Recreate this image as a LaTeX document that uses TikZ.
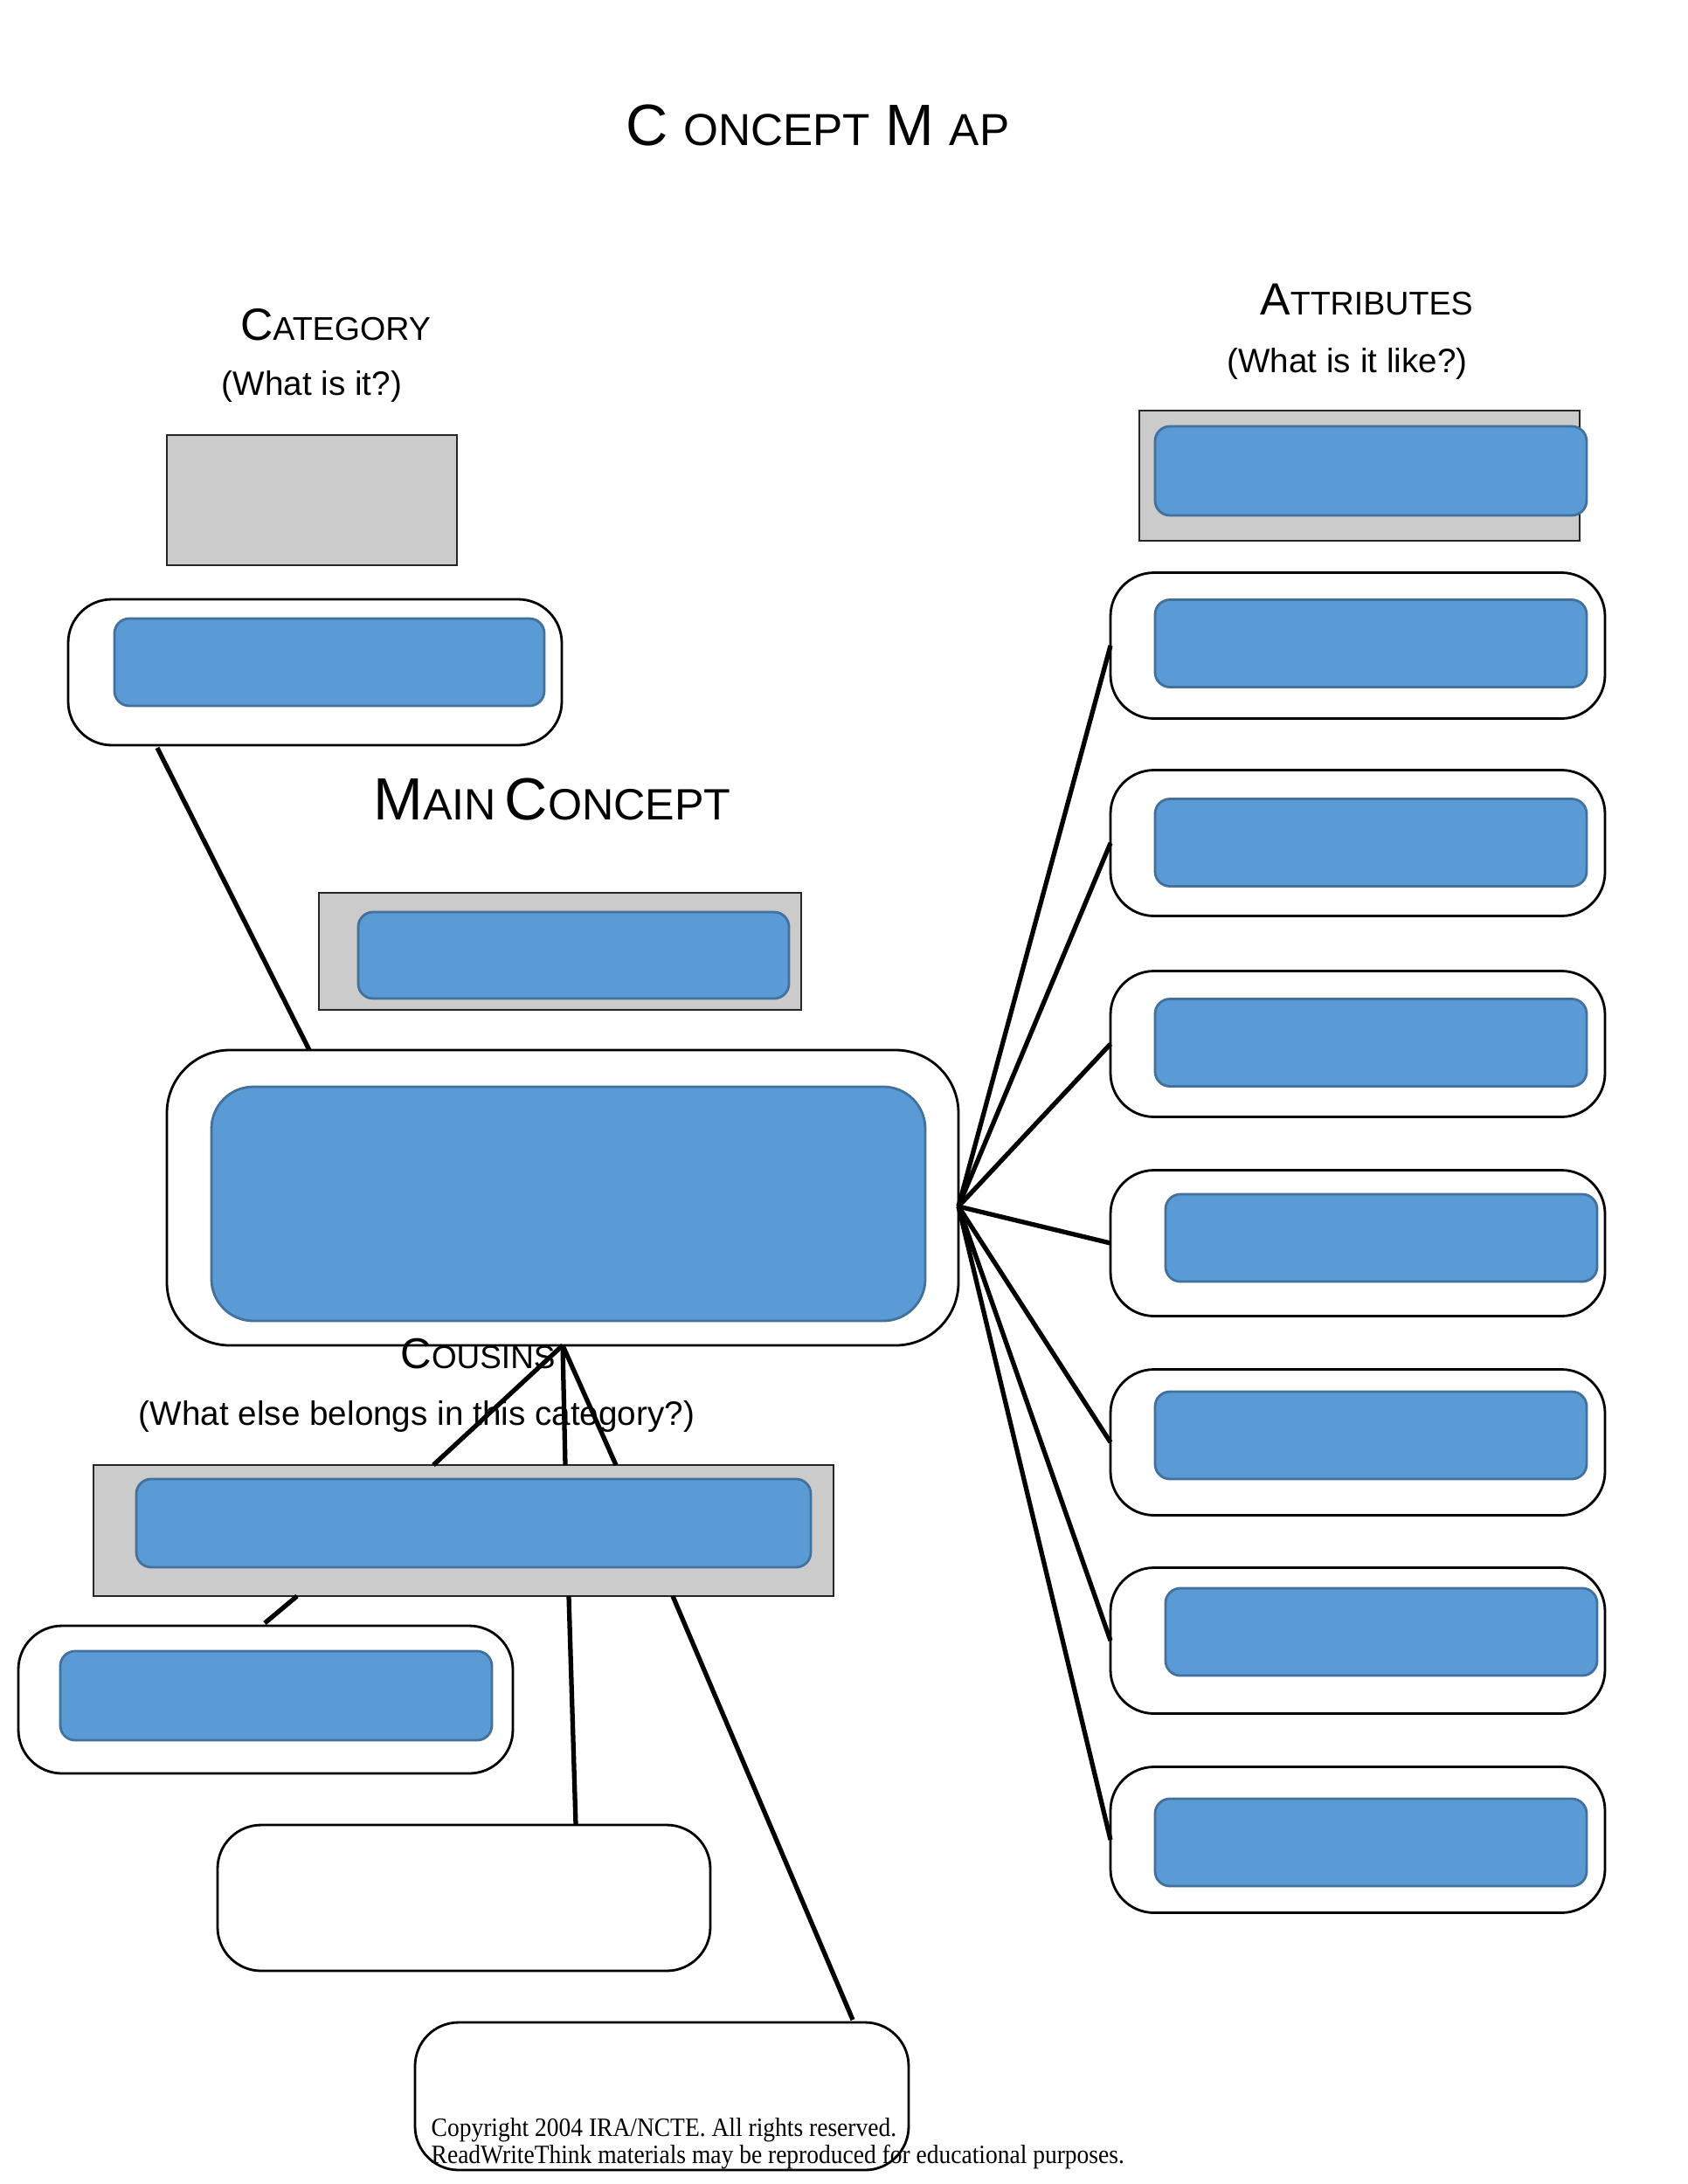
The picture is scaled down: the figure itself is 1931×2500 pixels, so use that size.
\documentclass[tikz,border=0pt]{standalone}
\usepackage{fontspec}
\setmainfont{Liberation Sans}
\newfontfamily\crfont[FakeStretch=0.91]{Liberation Serif}
\usetikzlibrary{calc}
\definecolor{boxblue}{HTML}{5B9BD5}
\definecolor{boxblueline}{HTML}{41719C}
\definecolor{boxgray}{HTML}{CBCBCB}
\tikzset{
  whitebox/.style={draw=black, line width=0.8pt, fill=white, rounded corners=5mm, inner sep=0pt, outer sep=0pt},
  bigwhite/.style={whitebox, rounded corners=7.2mm},
  graybox/.style={draw=black!85, line width=0.65pt, fill=boxgray, inner sep=0pt, outer sep=0pt},
  bluebox/.style={draw=boxblueline, line width=0.8pt, fill=boxblue, rounded corners=1.7mm, inner sep=0pt, outer sep=0pt},
  bigblue/.style={bluebox, rounded corners=4.8mm},
  link/.style={line width=1.5pt, black},
  lbl/.style={anchor=base, inner sep=0pt},
  sub/.style={lbl, font=\fontsize{11}{13}\selectfont},
}
\begin{document}
\begin{tikzpicture}[x=0.1mm, y=-0.1mm]
\useasboundingbox (0,0) rectangle (1931,2500);

% Title
\node[lbl] (title) at (936,166) {{\fontsize{19}{22}\selectfont C}\hspace{5pt}{\fontsize{14.6}{18}\selectfont ONCEPT}\hspace{5pt}{\fontsize{19}{22}\selectfont M}\hspace{5pt}{\fontsize{14.6}{18}\selectfont AP}};

% Category
\node[lbl] (cathead) at (384,389) {{\fontsize{14.7}{17}\selectfont C}{\fontsize{10.7}{13}\selectfont ATEGORY}};
\node[sub] (catsub) at (357,452) {(What is it?)};
\node[graybox, minimum width=33.2mm, minimum height=14.9mm] (catg) at (357,572.5) {};
\node[whitebox, minimum width=56.5mm, minimum height=16.7mm] (catw) at (360.5,769.5) {};
\node[bluebox, minimum width=49.2mm, minimum height=10.0mm] (catb) at (377,758) {};

% Attributes
\node[lbl] (atthead) at (1564,360) {{\fontsize{14.7}{17}\selectfont A}{\fontsize{10.7}{13}\selectfont TTRIBUTES}};
\node[sub] (attsub) at (1542,426) {(What is it like?)};
\node[graybox, minimum width=50.4mm, minimum height=14.9mm] (attg) at (1556,544.5) {};
\node[bluebox, minimum width=49.4mm, minimum height=10.2mm] (attb) at (1569,539) {};

% Attribute boxes
\foreach \i/\cy/\bx/\by in {1/739/1569/736.5, 2/965/1569/964.5, 3/1195/1569/1193.5, 4/1423/1581/1417, 5/1651/1569/1643, 6/1878/1581/1868, 7/2106/1569/2109}{
  \node[whitebox, minimum width=56.6mm, minimum height=16.7mm] (r\i) at (1554,\cy) {};
  \node[bluebox, minimum width=49.4mm, minimum height=10.0mm] (rb\i) at (\bx,\by) {};
}

% Main concept
\node[lbl] (mainhead) at (632,938) {{\fontsize{19.4}{22}\selectfont M}{\fontsize{14.3}{17}\selectfont AIN} {\fontsize{19.4}{22}\selectfont C}{\fontsize{14.3}{17}\selectfont ONCEPT}};
\node[graybox, minimum width=55.2mm, minimum height=13.4mm] (mg) at (641,1089) {};
\node[bluebox, minimum width=49.3mm, minimum height=9.9mm] (mb) at (656.5,1093.5) {};
\node[bigwhite, minimum width=90.6mm, minimum height=33.8mm] (mw) at (644,1371) {};
\node[bigblue, minimum width=81.7mm, minimum height=26.8mm] (mbb) at (650.5,1378) {};

% Cousins
\node[lbl] (couhead) at (547,1566) {{\fontsize{14}{17}\selectfont C}{\fontsize{10.5}{13}\selectfont OUSINS}};
\node[sub] (cousub) at (477,1631) {(What else belongs in this category?)};
\node[graybox, minimum width=84.7mm, minimum height=15.0mm] (cg) at (530.5,1752) {};
\node[bluebox, minimum width=77.2mm, minimum height=10.1mm] (cb) at (542,1743.5) {};

\node[whitebox, minimum width=56.6mm, minimum height=16.9mm] (c1) at (304,1945.5) {};
\node[bluebox, minimum width=49.4mm, minimum height=10.2mm] (c1b) at (316,1941) {};
\node[whitebox, minimum width=56.4mm, minimum height=16.7mm] (c2) at (531,2172.5) {};
\node[whitebox, minimum width=56.5mm, minimum height=16.9mm] (c3) at (757.5,2399.5) {};

% Connectors
\coordinate (hub) at (1097,1381);
\foreach \i in {1,...,7}{ \draw[link] (hub) -- (r\i.west); }
\draw[link] ($(catw.south west)+(102,3)$) -- ($(mw.north west)+(163,0)$);
\draw[link] (mw.south) -- ($(cg.north west)+(389,0)$);
\draw[link] (mw.south) -- ($(cg.north west)+(540,0)$);
\draw[link] (mw.south) -- ($(cg.north west)+(598,0)$);
\draw[link] ($(cg.south west)+(233,0)$) -- ($(c1.north west)+(282,-3)$);
\draw[link] ($(cg.south west)+(544,0)$) -- ($(c2.north west)+(410,0)$);
\draw[link] ($(cg.south west)+(663,0)$) -- ($(c3.north west)+(501,-3)$);

% Copyright
\node[anchor=base west, inner sep=0pt, font=\crfont\fontsize{8.6}{10}\selectfont] (cr1) at (493,2445) {Copyright 2004 IRA/NCTE. All rights reserved.};
\node[anchor=base west, inner sep=0pt, font=\crfont\fontsize{8.6}{10}\selectfont] (cr2) at (493,2476) {ReadWriteThink materials may be reproduced for educational purposes.};
\end{tikzpicture}
\end{document}
